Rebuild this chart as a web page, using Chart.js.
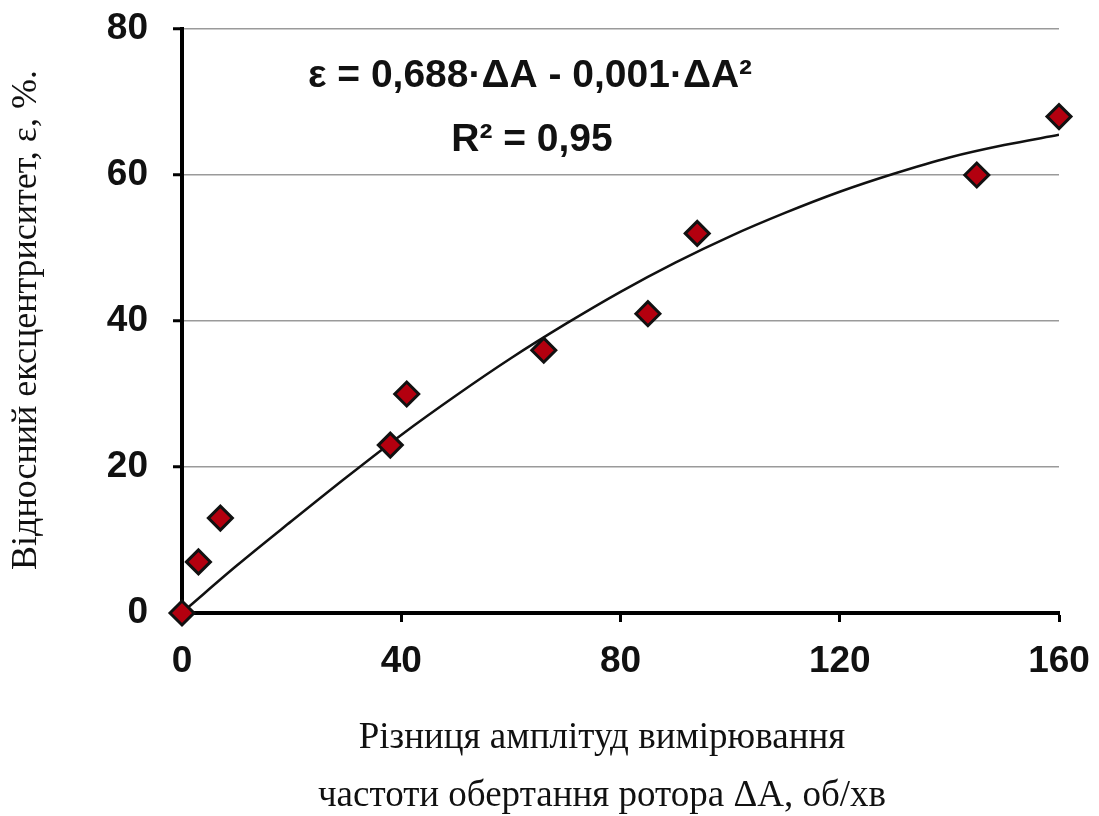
<!DOCTYPE html>
<html>
<head>
<meta charset="utf-8">
<script src="https://cdn.jsdelivr.net/npm/chart.js@4/dist/chart.umd.min.js"></script>
<style>
  html, body { margin: 0; padding: 0; background: #fff; }
  #wrap { width: 1099px; height: 816px; }
</style>
</head>
<body>
<div id="wrap"><canvas id="chart1"></canvas></div>
<script>
// measured points
const diffA = [0, 3, 7, 38, 41, 66, 85, 94, 145, 160];
const eps = [0, 7, 13, 23, 30, 36, 41, 52, 60, 68];

// trend line
const trendA = [1, 10, 20, 30, 40, 50, 60, 70, 80, 90, 100, 110, 120, 130, 140, 150, 160];
const trendEps = [0.7, 6.5, 12.6, 18.6, 24.4, 29.8, 34.9, 39.6, 44.0, 48.0, 51.6, 54.8, 57.7, 60.2, 62.4, 64.1, 65.5];

const xTicks = [0, 40, 80, 120, 160];
const yTicks = [0, 20, 40, 60, 80];

const equation = 'ε = 0,688·ΔA - 0,001·ΔA²';
const rSquared = 'R² = 0,95';
const xTitle = ['Різниця амплітуд вимірювання', 'частоти обертання ротора ΔA, об/хв'];
const yTitle = 'Відносний ексцентриситет, ε, %.';

const tickFont = { family: "'Liberation Sans', Arial, sans-serif", size: 37, weight: 'bold' };
const serif = "'Liberation Serif', 'Times New Roman', serif";

// titles and the equation text
const textPlugin = {
    id: 'texts',
    afterDraw(chart) {
        const c = chart.ctx;
        c.save();
        c.fillStyle = '#111';
        c.textAlign = 'center';
        c.textBaseline = 'middle';
        c.font = "bold 39px 'Liberation Sans', Arial, sans-serif";
        c.fillText(equation, 530, 76);
        c.fillText(rSquared, 532, 140);
        c.font = '37px ' + serif;
        c.fillText(xTitle[0], 602, 738);
        c.fillText(xTitle[1], 602, 796);
        c.font = '36px ' + serif;
        c.translate(27, 320);
        c.rotate(-Math.PI / 2);
        c.fillText(yTitle, 0, 0);
        c.restore();
    }
};

const ctx = document.getElementById('chart1').getContext('2d');

const chart1 = new Chart(ctx, {
    type: 'scatter',
    data: {
        datasets: [{
            label: 'ε',
            data: diffA.map((a, i) => ({ x: a, y: eps[i] })),
            pointStyle: 'rectRot',
            pointRadius: 12,
            pointBorderWidth: 3,
            pointBackgroundColor: '#b3000f',
            pointBorderColor: '#111',
            clip: false,
            order: 0
        }, {
            type: 'line',
            label: 'trend',
            data: trendA.map((a, i) => ({ x: a, y: trendEps[i] })),
            borderColor: '#111',
            borderWidth: 2.5,
            pointRadius: 0,
            tension: 0.4,
            cubicInterpolationMode: 'monotone',
            fill: false,
            order: 1
        }]
    },
    options: {
        responsive: true,
        maintainAspectRatio: false,
        animation: false,
        layout: { padding: { left: 0, top: 29, right: 40, bottom: 0 } },
        plugins: {
            legend: { display: false },
            tooltip: { enabled: false }
        },
        scales: {
            x: {
                type: 'linear',
                min: 0,
                max: 160,
                afterBuildTicks: s => { s.ticks = xTicks.map(v => ({ value: v })); },
                afterFit: s => { s.height = 203; s.paddingLeft = 0; s.paddingRight = 0; },
                ticks: { font: tickFont, color: '#111', padding: 18, maxRotation: 0 },
                grid: { drawOnChartArea: false, drawTicks: true, tickLength: 9, tickWidth: 3, tickColor: '#000' },
                border: { color: '#000', width: 4 }
            },
            y: {
                min: 0,
                max: 80,
                afterBuildTicks: s => { s.ticks = yTicks.map(v => ({ value: v })); },
                afterFit: s => { s.width = 182; s.paddingTop = 0; s.paddingBottom = 0; },
                ticks: { font: tickFont, color: '#111', padding: 25 },
                grid: { color: '#9a9a9a', lineWidth: 1.5, tickLength: 9, tickWidth: 3, tickColor: '#000' },
                border: { color: '#000', width: 4 }
            }
        }
    },
    plugins: [textPlugin]
});
</script>
</body>
</html>
